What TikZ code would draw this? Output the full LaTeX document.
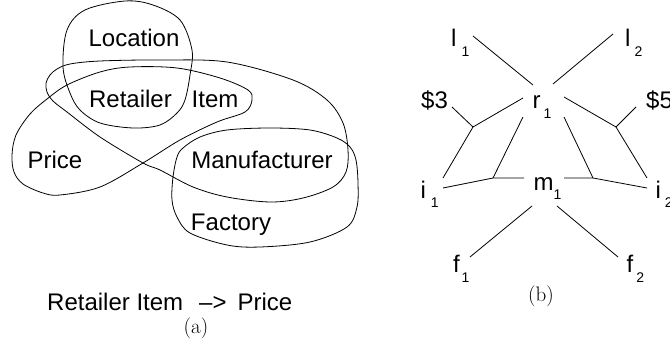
\documentclass[tikz,border=0pt]{standalone}
\usepackage{fontspec}
\newfontfamily\arialf{Liberation Sans}
\newcommand\mysubfont{\arialf\fontsize{14}{14}\selectfont}
\newcommand\lsub[3]{#1\hspace{#2pt}\raisebox{-9.5pt}{\mysubfont #3}}
\tikzset{
  lab/.style={font=\arialf\fontsize{24}{28}\selectfont, inner sep=0pt, anchor=base},
  blab/.style={font=\arialf\fontsize{24}{28}\selectfont, inner sep=0pt, anchor=base west},
  captionlab/.style={font=\fontsize{21}{24}\selectfont, inner sep=0pt, anchor=base},
  conn/.style={line width=0.8pt, line join=round},
  blob/.style={line width=0.8pt}
}
\begin{document}
\begin{tikzpicture}[x=1pt,y=-1pt]
\useasboundingbox (0,0) rectangle (670,345);
% ---------- (a) ----------
\draw[blob] plot[smooth cycle, tension=0.55] coordinates {(125,1) (153,5) (180,20) (192,50) (190,75) (185,100) (177,113) (160,125) (133,128) (100,123) (80,110) (70,93) (63,67) (67,30) (85,10)};
\draw[blob] plot[smooth cycle, tension=0.55] coordinates {(46,83) (50,75) (57,69) (70,64) (100,61) (160,60) (227,62) (293,80) (327,100) (343,123) (348,150) (346,172) (333,187) (303,198) (270,202) (227,197) (193,187) (160,170) (143,163) (100,137) (67,112) (53,101) (47,92)};
\draw[blob] plot[smooth cycle, tension=0.55] coordinates {(252,100) (248,90) (220,78) (177,68) (130,67) (100,72) (67,85) (47,99) (30,114) (16,135) (12,155) (14,172) (23,184) (43,193) (60,195) (100,187) (143,163) (180,140) (217,122) (245,112)};
\draw[blob] plot[smooth cycle, tension=0.55] coordinates {(177,157) (183,148) (200,137) (227,130) (270,128) (310,130) (337,138) (350,147) (356,160) (358,183) (357,207) (347,227) (310,242) (260,247) (227,245) (190,233) (177,217) (172,200) (173,177)};
\node[lab] (loc) at (134,47) {Location};
\node[lab] (ret) at (130.5,107) {Retailer};
\node[lab] (item) at (215,107) {Item};
\node[lab] (price) at (55,168) {Price};
\node[lab] (man) at (262,168) {Manufacturer};
\node[lab] (fac) at (231,230) {Factory};
\node[blab] (fd) at (47,310) {Retailer Item\hspace{16pt}–>\hspace{11pt}Price};
\node[captionlab] (capa) at (196,333) {(a)};
% ---------- (b) ----------
\node[blab] (l1) at (451,47) {\lsub{l}{5}{1}};
\node[blab] (l2) at (625,47) {\lsub{l}{4}{2}};
\node[blab] (r1) at (532.5,109) {\lsub{r}{3}{1}};
\node[blab] (d3) at (421,109) {\$3};
\node[blab] (d5) at (646,109) {\$5};
\node[blab] (i1) at (420.4,198) {\lsub{i}{5}{1}};
\node[blab] (m1) at (533.5,190) {\lsub{m}{0}{1}};
\node[blab] (i2) at (655.4,198) {\lsub{i}{4}{2}};
\node[blab] (f1) at (452.8,272.5) {\lsub{f}{2}{1}};
\node[blab] (f2) at (626.5,272.5) {\lsub{f}{3}{2}};
\node[captionlab] (capb) at (541,301) {(b)};
% end points and junctions
\coordinate (l1e) at (473,36);
\coordinate (l2e) at (613,34);
\coordinate (r1a) at (533,85);
\coordinate (r1b) at (553,84);
\coordinate (r1c) at (523,98);
\coordinate (r1d) at (523,117);
\coordinate (r1e) at (564,117);
\coordinate (r1f) at (564,97);
\coordinate (d3e) at (452,107);
\coordinate (d5e) at (636,107);
\coordinate (j3) at (473,127);
\coordinate (j5) at (616,127);
\coordinate (i1a) at (443,178);
\coordinate (i1b) at (443,188);
\coordinate (i2a) at (647,178);
\coordinate (i2b) at (647,188);
\coordinate (jL) at (493,178);
\coordinate (jR) at (593,178);
\coordinate (m1a) at (524,178);
\coordinate (m1b) at (564,178);
\coordinate (m1c) at (532,206);
\coordinate (m1d) at (557,206);
\coordinate (f1e) at (470,257);
\coordinate (f2e) at (618,257);
\draw[conn] (l1e) -- (r1a);
\draw[conn] (l2e) -- (r1b);
\draw[conn] (r1c) -- (j3) -- (i1a);
\draw[conn] (d3e) -- (j3);
\draw[conn] (r1f) -- (j5) -- (i2a);
\draw[conn] (d5e) -- (j5);
\draw[conn] (r1d) -- (jL);
\draw[conn] (r1e) -- (jR);
\draw[conn] (i1b) -- (jL) -- (m1a);
\draw[conn] (m1b) -- (jR) -- (i2b);
\draw[conn] (m1c) -- (f1e);
\draw[conn] (m1d) -- (f2e);
\end{tikzpicture}
\end{document}
